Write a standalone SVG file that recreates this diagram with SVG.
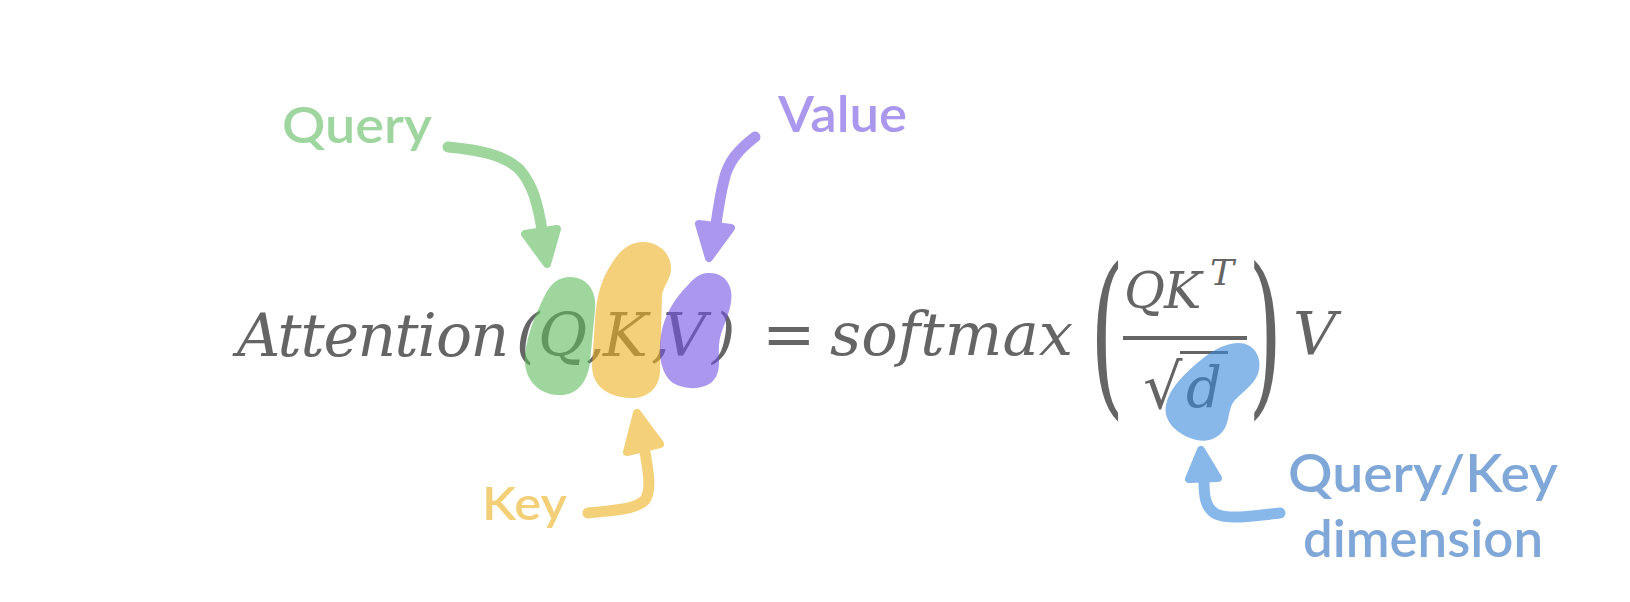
<svg xmlns="http://www.w3.org/2000/svg" width="1630" height="602" viewBox="0 0 1630 602">
<style>
.eq{font-family:"DejaVu Serif","Liberation Serif",serif;font-style:italic;fill:#656565;}
.up{font-family:"DejaVu Serif","Liberation Serif",serif;font-style:normal;fill:#656565;}
.lbl{font-family:Lato,"Noto Sans",sans-serif;font-weight:600;}
.blob{opacity:0.6;}
.ln{fill:none;stroke-width:11;stroke-linecap:round;stroke-linejoin:round;}
.hd{stroke-width:8;stroke-linejoin:round;}
.sg{stroke:#9ed69e;} .fg{fill:#9ed69e;}
.sy{stroke:#f4d078;} .fy{fill:#f4d078;}
.sp{stroke:#ab97ee;} .fp{fill:#ab97ee;}
.sb{stroke:#88b7ea;} .fb{fill:#88b7ea;}
</style>
<rect width="1630" height="602" fill="#ffffff"/>

<g id="formula">
<text class="eq" y="356" font-size="60" x="237 277.5 300.5 323.5 357.5 394.5 417.5 436 470.5 516 538 586 603 651 663 712">Attention(Q,K,V)</text>
<text class="up" x="762" y="356" font-size="64">=</text>
<text class="eq" x="830" y="355" font-size="60" textLength="243" lengthAdjust="spacingAndGlyphs">softmax</text>
<text class="up" font-size="176" transform="translate(1090,394) scale(0.5,1)">(</text>
<text class="up" font-size="176" transform="translate(1248,394) scale(0.5,1)">)</text>
<text class="eq" y="308" font-size="50" x="1124 1164">QK</text>
<text class="eq" x="1210" y="285" font-size="36">T</text>
<rect x="1123" y="336" width="124" height="4" fill="#656565"/>
<text class="up" x="1143" y="408" font-size="62">√</text>
<rect x="1180" y="351" width="48" height="3" fill="#656565"/>
<text class="eq" x="1186" y="407" font-size="56">d</text>
<text class="eq" x="1293" y="355" font-size="60">V</text>
</g>

<g id="blob-q" class="blob"><path fill="#5dbb5d" d="M 570 277 C 588 277 597 292 595 310 L 590 362 C 587 385 575 396 558 395 C 537 394 523 378 525 355 C 527 335 535 315 545 295 C 551 283 559 277 570 277 Z"/></g>
<g id="blob-k" class="blob"><path fill="#edb121" d="M 643 242 C 660 242 672 255 671 270 C 670 280 664 285 662 295 L 660 372 C 659 390 645 399 630 398 C 610 397 592 388 592 365 L 595 320 C 597 295 601 280 612 263 C 620 250 630 242 643 242 Z"/></g>
<g id="blob-v" class="blob"><path fill="#7352e3" d="M 708 273 C 724 272 734 285 731 302 C 729 318 720 330 719 345 C 718 360 722 372 712 382 C 702 390 685 390 673 383 C 661 374 658 355 661 335 C 664 315 675 298 688 285 C 694 278 700 273 708 273 Z"/></g>
<g id="blob-d" class="blob"><path fill="#3987dc" d="M 1237 343 C 1252 342 1262 355 1259 370 C 1257 382 1245 390 1235 400 C 1228 408 1230 418 1225 428 C 1218 440 1205 443 1193 439 C 1175 433 1163 420 1166 405 C 1169 390 1180 378 1195 365 C 1208 353 1222 344 1237 343 Z"/></g>

<g id="label-query"><text class="lbl" x="282" y="143" font-size="50" fill="#9fd69f" textLength="150" lengthAdjust="spacingAndGlyphs">Query</text></g>
<g id="label-value"><text class="lbl" x="778" y="132" font-size="49" fill="#ab97ee" textLength="129" lengthAdjust="spacingAndGlyphs">Value</text></g>
<g id="label-key"><text class="lbl" x="482" y="520" font-size="46" fill="#f3d077" textLength="85" lengthAdjust="spacingAndGlyphs">Key</text></g>
<g id="label-dim">
<text class="lbl" x="1288" y="492" font-size="51" fill="#7fa7d7" textLength="270" lengthAdjust="spacingAndGlyphs">Query/Key</text>
<text class="lbl" x="1303" y="557" font-size="51" fill="#7fa7d7" textLength="240" lengthAdjust="spacingAndGlyphs">dimension</text>
</g>

<g id="connectors">
<path class="ln sg" d="M 448 147 C 480 150 505 155 520 170 C 533 185 538 205 542 230"/>
<polygon class="hd sg fg" points="525,234 557,229 547,264"/>
<path class="ln sp" d="M 755 137 C 738 150 728 162 724 180 C 720 196 718 210 716 224"/>
<polygon class="hd sp fp" points="699,224 731,228 709,258"/>
<path class="ln sy" d="M 588 513 C 615 510 635 510 645 500 C 652 490 648 470 645 452"/>
<polygon class="hd sy fy" points="627,452 660,444 637,413"/>
<path class="ln sb" d="M 1280 513 C 1250 516 1230 520 1216 514 C 1205 508 1204 495 1204 482"/>
<polygon class="hd sb fb" points="1189,479 1218,478 1201,450"/>
</g>
</svg>
